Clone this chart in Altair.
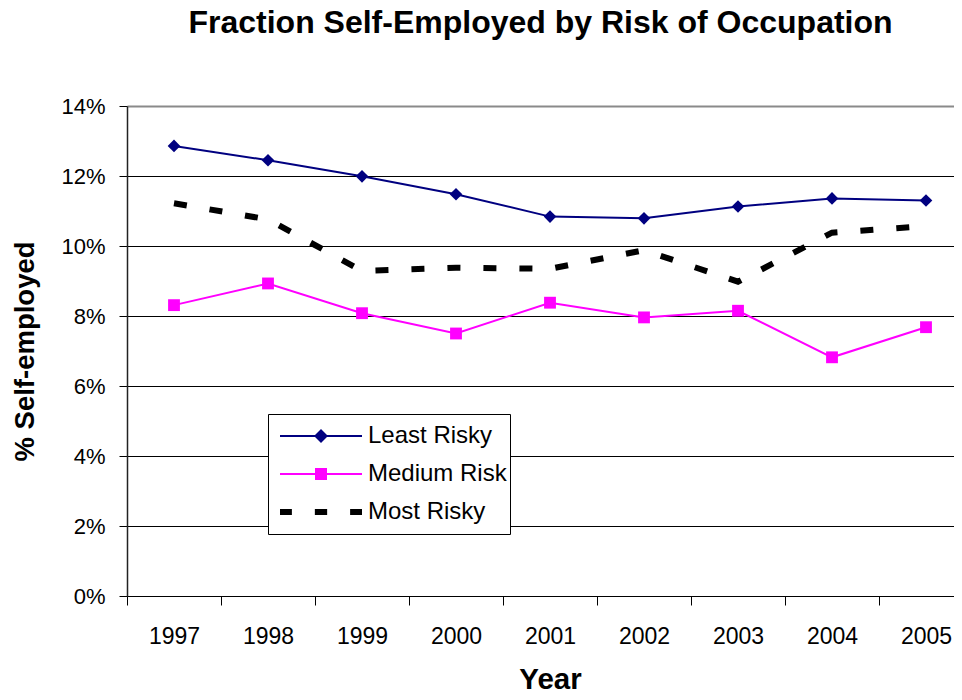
import altair as alt
import pandas as pd

years = ["1997", "1998", "1999", "2000", "2001", "2002", "2003", "2004", "2005"]
least_risky = [0.1286, 0.1245, 0.1199, 0.1148, 0.1084, 0.1079, 0.1113, 0.1136, 0.1130]
medium_risk = [0.0831, 0.0893, 0.0808, 0.0750, 0.0838, 0.0796, 0.0815, 0.0682, 0.0768]
most_risky = [0.1122, 0.1076, 0.0929, 0.0938, 0.0935, 0.0988, 0.0898, 0.1038, 0.1057]
series_names = ["Least Risky", "Medium Risk", "Most Risky"]
series_colors = ["#000080", "#FF00FF", "#000000"]
y_ticks = [0, 0.02, 0.04, 0.06, 0.08, 0.10, 0.12, 0.14]

rows = []
for name, vals in zip(series_names, [least_risky, medium_risk, most_risky]):
    for yr, v in zip(years, vals):
        rows.append({"year": yr, "value": v, "series": name})
df = pd.DataFrame(rows)

FONT = "Liberation Sans"

x_enc = alt.X(
    "year:O",
    sort=years,
    scale=alt.Scale(type="band", range=[0, 846], paddingInner=0, paddingOuter=0),
    axis=alt.Axis(
        title="Year",
        labelAngle=0,
        tickBand="extent",
        grid=False,
        tickSize=9,
        tickColor="#000000",
        domainColor="#000000",
        labelPadding=20,
        labelFontSize=23,
        labelFont=FONT,
        labelColor="#000000",
        titleFont=FONT,
        titleFontSize=29.5,
        titleFontWeight="bold",
        titleColor="#000000",
        titleBaseline="alphabetic",
        titleY=92,
    ),
)
y_enc = alt.Y(
    "value:Q",
    scale=alt.Scale(domain=[0, 0.14], nice=False),
    axis=alt.Axis(
        title="% Self-employed",
        values=y_ticks,
        format=".0%",
        tickSize=8,
        tickColor="#000000",
        domainColor="#222222",
        domainWidth=1.5,
        labelPadding=14,
        labelFontSize=22,
        labelFont=FONT,
        labelColor="#000000",
        grid=True,
        gridColor=alt.ConditionalAxisColor(
            condition={"test": "datum.value >= 0.139", "value": "#8a8a8a"},
            value="#000000",
        ),
        gridWidth=alt.ConditionalAxisNumber(
            condition={"test": "datum.value >= 0.139", "value": 2},
            value=1,
        ),
        titleFont=FONT,
        titleFontSize=27.5,
        titleFontWeight="bold",
        titleColor="#000000",
        titleBaseline="alphabetic",
        titleX=-94,
    ),
)

base = alt.Chart(df).encode(x=x_enc, y=y_enc)

least_line = base.transform_filter(alt.datum.series == "Least Risky").mark_line(
    color="#000080", strokeWidth=2
)
least_pts = base.transform_filter(alt.datum.series == "Least Risky").mark_point(
    shape="diamond", filled=True, size=160, color="#000080", opacity=1
)
med_line = base.transform_filter(alt.datum.series == "Medium Risk").mark_line(
    color="#FF00FF", strokeWidth=2
)
med_pts = base.transform_filter(alt.datum.series == "Medium Risk").mark_point(
    shape="square", filled=True, size=140, color="#FF00FF", opacity=1
)
most_line = base.transform_filter(alt.datum.series == "Most Risky").mark_line(
    color="#000000", strokeWidth=6, strokeDash=[13, 23], strokeCap="butt"
)

sym_least = "M-1,-0.025L1,-0.025L1,0.025L-1,0.025Z M0,-0.17L0.17,0L0,0.17L-0.17,0Z"
sym_med = "M-1,-0.025L1,-0.025L1,0.025L-1,0.025Z M-0.146,-0.146L0.146,-0.146L0.146,0.146L-0.146,0.146Z"
sym_most = ("M-1,-0.073L-0.71,-0.073L-0.71,0.073L-1,0.073Z "
            "M-0.15,-0.073L0.15,-0.073L0.15,0.073L-0.15,0.073Z "
            "M0.71,-0.073L1,-0.073L1,0.073L0.71,0.073Z")

legend = alt.Legend(
    title=None,
    orient="none",
    legendX=141,
    legendY=308,
    direction="vertical",
    symbolSize=6724,
    symbolStrokeWidth=0,
    clipHeight=38,
    rowPadding=0,
    labelFontSize=24,
    labelFont=FONT,
    labelColor="#000000",
    labelLimit=300,
    padding=3,
    symbolOffset=9,
    labelOffset=6,
    strokeColor="#000000",
    fillColor="#ffffff",
)

legend_layer = base.transform_filter("false").mark_point(filled=True, opacity=1).encode(
    color=alt.Color("series:N", scale=alt.Scale(domain=series_names, range=series_colors), legend=legend),
    shape=alt.Shape("series:N", scale=alt.Scale(domain=series_names, range=[sym_least, sym_med, sym_most]), legend=legend),
)

chart = alt.layer(
    least_line, least_pts, med_line, med_pts, most_line, legend_layer
).properties(
    width=827,
    height=490,
    autosize=alt.AutoSizeParams(type="none"),
    padding={"left": 119, "top": 98, "right": 0, "bottom": 96},
    title=alt.Title(
        "Fraction Self-Employed by Risk of Occupation",
        font=FONT,
        fontSize=32,
        fontWeight="bold",
        color="#000000",
        anchor="middle",
        offset=55,
    ),
).configure_view(strokeWidth=0).configure(background="#ffffff")

chart.save("out.html", embed_options={"renderer": "svg", "actions": False})
